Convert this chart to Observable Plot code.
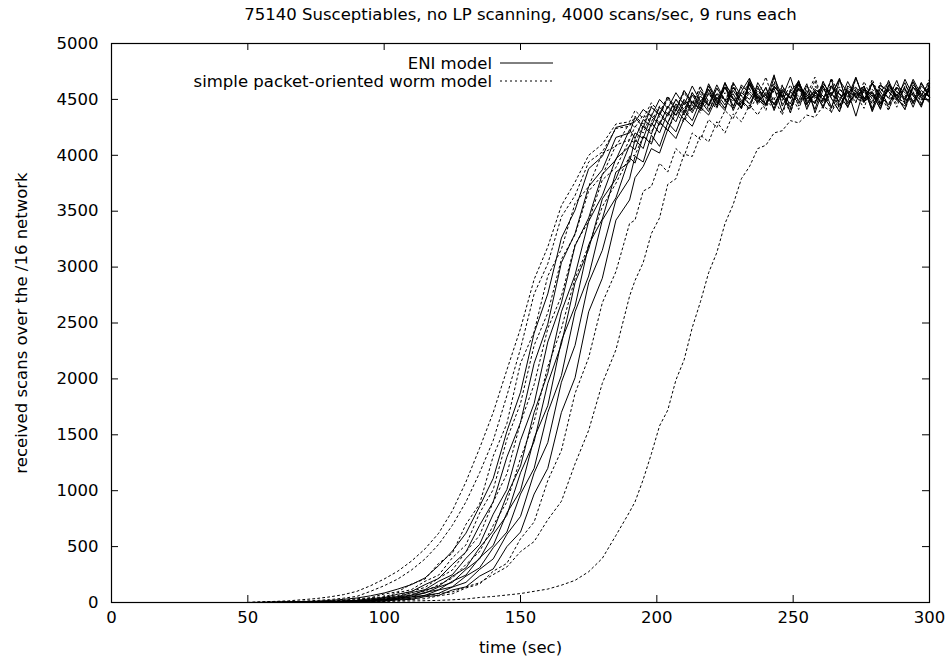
<!DOCTYPE html>
<html>
<head>
<meta charset="utf-8">
<script src="https://cdn.jsdelivr.net/npm/d3@7"></script>
<script src="https://cdn.jsdelivr.net/npm/@observablehq/plot@0.6"></script>
<style>
  html, body { margin: 0; padding: 0; background: #fff; }
  svg { display: block; }
</style>
</head>
<body>
<div id="chart"></div>
<script>
const titleText = "75140 Susceptiables, no LP scanning, 4000 scans/sec, 9 runs each";
const xLabel = "time (sec)";
const yLabel = "received scans over the /16 network";
const legendLabels = ["ENI model", "simple packet-oriented worm model"];
const xTicks = [0, 50, 100, 150, 200, 250, 300];
const yTicks = [0, 500, 1000, 1500, 2000, 2500, 3000, 3500, 4000, 4500, 5000];

const times = [50,55,60,65,70,75,80,85,90,95,100,105,110,115,120,125,130,135,140,145,150,155,160,165,170,175,180,185,190,
  192,195,198,201,204,207,210,213,216,219,222,225,228,231,234,237,240,243,246,249,252,255,258,261,264,267,270,273,276,279,282,285,288,291,294,297,300];

// ENI model, 9 runs (solid)
const eniRuns = [
  [0,1,3,4,8,12,18,28,40,60, 85,120,160,220,330,460,620,860,1110,1530, 1880,2410,2760,3260,3510,3880,3990,4250,4280,
   4300,4410,4350,4500,4420,4560,4450,4620,4480,4590,4430,4650,4510,4420,4680,4540,4460,4620,4520,4700,4470,4580,4410,4640,4550,4480,4660,4520,4590,4400,4630,4570,4490,4680,4530,4450,4600],
  [0,1,2,4,3,7,8,15,19,34, 44,74,98,160,215,340,452,690,900,1300, 1610,2140,2490,3040,3300,3720,3870,4160,4200,
   4340,4250,4430,4360,4520,4400,4580,4470,4420,4640,4500,4610,4440,4570,4690,4480,4550,4420,4620,4510,4660,4450,4590,4530,4420,4670,4560,4480,4620,4390,4570,4650,4500,4440,4610,4530,4660],
  [0,0,1,3,5,4,9,11,19,23, 40,52,88,115,190,248,395,520,790,1010, 1450,1780,2330,2680,3190,3440,3830,3960,4230,
   4150,4320,4260,4430,4350,4500,4390,4560,4440,4620,4480,4400,4650,4530,4460,4600,4510,4720,4440,4570,4490,4640,4380,4590,4530,4680,4460,4550,4620,4420,4600,4510,4670,4470,4560,4430,4640],
  [0,0,1,2,2,5,5,10,13,24, 29,50,66,110,146,235,310,490,640,960, 1220,1700,2050,2600,2930,3410,3640,3970,4080,
   4200,4150,4350,4270,4440,4360,4500,4410,4580,4450,4630,4490,4550,4420,4660,4510,4600,4450,4570,4380,4640,4520,4470,4610,4540,4690,4430,4580,4500,4650,4460,4590,4520,4410,4630,4550,4480],
  [0,0,1,1,3,3,6,7,13,16, 29,37,63,84,138,180,296,390,610,780, 1160,1440,1960,2310,2860,3160,3610,3790,4090,
   4050,4260,4190,4380,4290,4460,4370,4540,4420,4590,4470,4650,4400,4560,4500,4620,4450,4700,4520,4430,4600,4540,4460,4660,4510,4390,4620,4570,4480,4640,4530,4450,4610,4500,4680,4540,4470],
  [0,0,0,2,2,4,4,9,11,19, 23,41,50,90,114,190,245,400,510,800, 1000,1470,1760,2340,2650,3200,3430,3850,3940,
   4140,4060,4290,4200,4380,4300,4480,4380,4530,4440,4600,4490,4420,4630,4550,4470,4610,4400,4580,4510,4670,4460,4550,4620,4430,4590,4520,4700,4480,4560,4410,4630,4540,4600,4460,4650,4520],
  [0,0,1,1,3,2,5,5,11,12, 24,28,50,64,112,140,236,310,490,630, 970,1200,1700,2030,2600,2920,3420,3620,3980,
   3930,4170,4100,4300,4220,4410,4320,4480,4400,4560,4450,4610,4500,4430,4640,4520,4460,4600,4390,4570,4660,4480,4540,4440,4620,4510,4580,4350,4600,4530,4470,4670,4500,4590,4430,4620,4550],
  [0,0,0,1,2,3,3,6,7,13, 16,29,37,64,82,138,180,296,390,610, 770,1160,1430,1970,2300,2860,3150,3600,3790,
   3990,3940,4180,4080,4290,4210,4400,4310,4490,4390,4550,4450,4610,4490,4420,4650,4530,4460,4590,4510,4640,4410,4570,4500,4680,4450,4560,4610,4480,4540,4420,4630,4570,4490,4660,4510,4590],
  [0,0,0,1,1,2,2,5,5,10, 12,24,28,52,64,112,140,236,300,500, 630,970,1200,1700,2010,2600,2900,3420,3600,
   3800,3900,4060,4020,4230,4150,4330,4260,4430,4360,4520,4420,4580,4470,4630,4500,4440,4610,4540,4460,4660,4500,4580,4420,4620,4550,4480,4690,4510,4570,4440,4600,4530,4650,4470,4580,4520]
];

// simple packet-oriented worm model, 9 runs (dotted)
const wormRuns = [
  [0,5,10,15,25,35,50,70,100,150, 210,280,370,480,620,820,1080,1380,1700,2080, 2450,2890,3180,3550,3760,4000,4100,4280,4300,
   4400,4330,4470,4380,4530,4420,4580,4460,4620,4400,4560,4490,4650,4430,4590,4520,4700,4460,4570,4410,4630,4540,4480,4660,4510,4390,4600,4550,4470,4680,4500,4580,4430,4620,4540,4470,4600],
  [0,2,5,8,12,18,26,38,55,100, 150,210,290,390,520,690,900,1160,1450,1850, 2270,2760,3030,3450,3640,3940,4030,4240,4260,
   4350,4280,4440,4360,4500,4410,4560,4450,4610,4480,4420,4640,4510,4450,4600,4540,4400,4660,4500,4580,4450,4620,4520,4470,4690,4540,4430,4600,4560,4480,4640,4410,4570,4520,4660,4460,4590],
  [0,1,3,4,7,8,15,19,34,42, 76,96,165,210,350,440,700,880,1310,1600, 2140,2420,2920,3160,3570,3720,4020,4080,4290,
   4250,4360,4300,4440,4370,4500,4410,4560,4460,4620,4490,4420,4600,4530,4660,4450,4570,4500,4630,4420,4590,4540,4700,4470,4560,4430,4620,4510,4580,4460,4650,4500,4550,4410,4610,4530,4680],
  [0,1,3,4,5,9,11,18,23,40, 51,88,115,190,245,400,515,800,1010,1460, 1780,2300,2590,3070,3290,3680,3820,4090,4140,
   4260,4200,4370,4290,4430,4350,4500,4400,4550,4440,4600,4480,4640,4420,4570,4510,4460,4620,4530,4380,4600,4490,4670,4440,4560,4610,4470,4540,4420,4650,4510,4580,4460,4620,4550,4490,4640],
  [0,1,2,3,5,6,10,12,22,27, 46,60,100,135,218,290,455,600,900,1150, 1610,1950,2450,2740,3200,3410,3780,3890,4140,
   4110,4270,4210,4350,4290,4430,4360,4490,4410,4550,4450,4600,4500,4420,4640,4470,4560,4510,4360,4590,4530,4450,4620,4500,4670,4430,4570,4520,4610,4460,4540,4400,4630,4560,4490,4650,4510],
  [0,1,1,2,4,4,7,9,14,20, 33,44,73,100,160,218,340,455,690,900, 1290,1620,2110,2450,2900,3190,3540,3750,3990,
   4000,4170,4120,4290,4230,4370,4300,4450,4380,4500,4430,4560,4480,4610,4440,4580,4500,4650,4460,4540,4410,4620,4520,4480,4600,4550,4430,4690,4510,4570,4450,4620,4530,4470,4610,4500,4580],
  [0,0,0,1,1,2,3,3,6,7, 13,16,27,34,60,78,130,165,280,350, 570,720,1090,1360,1870,2190,2680,2960,3390,
   3420,3680,3720,3930,3850,4060,3990,4200,4140,4320,4250,4400,4330,4470,4410,4530,4450,4580,4490,4630,4440,4560,4510,4620,4380,4590,4530,4470,4660,4500,4570,4430,4610,4540,4480,4640,4520],
  [0,0,1,2,3,4,8,9,15,18, 29,35,52,58,80,95,140,176,250,318, 455,545,740,905,1240,1540,1960,2260,2740,
   2880,3040,3300,3440,3740,3790,4010,3990,4180,4120,4300,4200,4370,4300,4450,4360,4490,4420,4550,4460,4600,4430,4560,4500,4630,4410,4580,4520,4470,4650,4540,4460,4600,4510,4570,4440,4620],
  [0,0,0,1,2,3,4,5,6,8, 10,12,14,16,19,24,31,45,54,67, 80,100,120,155,198,275,395,600,810,
   900,1100,1330,1580,1720,1990,2170,2460,2690,2950,3130,3390,3560,3790,3900,4060,4090,4200,4220,4310,4290,4360,4340,4440,4390,4500,4440,4560,4480,4590,4510,4620,4530,4460,4600,4520,4580]
];

function rows(runs, prefix) {
  const out = [];
  runs.forEach((vals, i) => {
    const n = Math.min(vals.length, times.length);
    for (let j = 0; j < n; j++) out.push({run: prefix + i, t: times[j], v: vals[j]});
  });
  return out;
}
const eniRows = rows(eniRuns, "eni");
const wormRows = rows(wormRuns, "worm");

const W = 951, H = 662, mL = 111, mR = 22, mT = 43, mB = 60;
const innerW = W - mL - mR, innerH = H - mT - mB;
const font = "DejaVu Sans";
const fs = 16.5;

const chart = Plot.plot({
  width: W, height: H,
  marginLeft: mL, marginRight: mR, marginTop: mT, marginBottom: mB,
  style: {fontFamily: font, fontSize: fs + "px", color: "#000", background: "#fff", overflow: "visible"},
  x: {domain: [0, 300]},
  y: {domain: [0, 5000]},
  marks: [
    Plot.axisX({ticks: xTicks, tickSize: 0, tickPadding: 9, tickFormat: "d", fontSize: fs,
      label: xLabel, labelAnchor: "center", labelOffset: 50, labelArrow: "none"}),
    Plot.axisY({ticks: yTicks, tickSize: 0, tickPadding: 13, tickFormat: "d", fontSize: fs,
      label: yLabel, labelAnchor: "center", labelOffset: 96, labelArrow: "none"}),
    Plot.tickX(xTicks, {x: d => d, insetTop: innerH - 7, stroke: "#000"}),
    Plot.tickX(xTicks, {x: d => d, insetBottom: innerH - 7, stroke: "#000"}),
    Plot.tickY(yTicks, {y: d => d, insetRight: innerW - 7, stroke: "#000"}),
    Plot.tickY(yTicks, {y: d => d, insetLeft: innerW - 7, stroke: "#000"}),
    Plot.line(wormRows, {x: "t", y: "v", z: "run", stroke: "#000", strokeWidth: 1, strokeDasharray: "2,3", curve: "linear"}),
    Plot.line(eniRows, {x: "t", y: "v", z: "run", stroke: "#000", strokeWidth: 1, curve: "linear"}),
    Plot.frame({stroke: "#000", strokeWidth: 1.2}),
    Plot.text([titleText], {text: d => d, frameAnchor: "top", lineAnchor: "middle", dy: -29, fontSize: fs, fill: "#000"})
  ]
});

// legend (inside the plot, top)
const svg = d3.select(chart);
const lg = svg.append("g").attr("font-family", font).attr("font-size", fs).attr("fill", "#000");
const legendY = [63, 81];
lg.append("text").attr("x", 492).attr("y", legendY[0]).attr("dy", "0.35em").attr("text-anchor", "end").text(legendLabels[0]);
lg.append("line").attr("x1", 500).attr("x2", 553).attr("y1", legendY[0]).attr("y2", legendY[0]).attr("stroke", "#000").attr("stroke-width", 1);
lg.append("text").attr("x", 492).attr("y", legendY[1]).attr("dy", "0.35em").attr("text-anchor", "end").text(legendLabels[1]);
lg.append("line").attr("x1", 500).attr("x2", 553).attr("y1", legendY[1]).attr("y2", legendY[1]).attr("stroke", "#000").attr("stroke-width", 1).attr("stroke-dasharray", "2,3");

document.getElementById("chart").appendChild(chart);
</script>
</body>
</html>
